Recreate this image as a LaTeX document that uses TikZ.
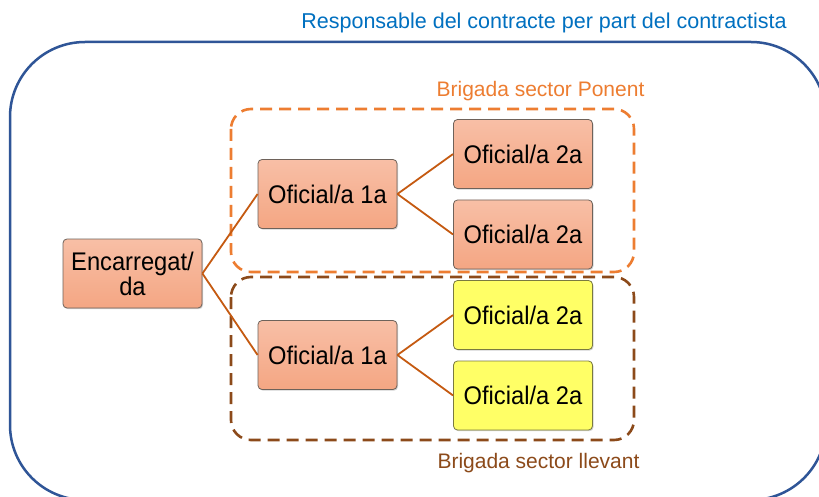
\documentclass[tikz,border=0pt]{standalone}
\usepackage{fontspec}
\setmainfont{Liberation Sans}
\newfontfamily\nodefont{Liberation Sans}[FakeStretch=0.93]
\usetikzlibrary{shadows}
\definecolor{titleblue}{HTML}{0070C0}
\definecolor{outerblue}{HTML}{2F5597}
\definecolor{ponentorange}{HTML}{ED7D31}
\definecolor{llevantbrown}{HTML}{8C4A1A}
\definecolor{linkcol}{HTML}{C55A11}
\definecolor{salmontop}{HTML}{F8BFA6}
\definecolor{salmonbot}{HTML}{F4A683}
\definecolor{yellowfill}{HTML}{FFFF66}
\definecolor{boxborder}{HTML}{6E625A}
\definecolor{yellowborder}{HTML}{7A7A40}
\tikzset{
  person/.style={rectangle, rounded corners=4pt, draw=boxborder, line width=0.8pt,
    minimum width=139pt, minimum height=69pt, inner sep=0pt,
    top color=salmontop, bottom color=salmonbot,
    drop shadow={shadow xshift=1pt, shadow yshift=-1.2pt, opacity=0.35},
    font=\nodefont\fontsize{25.5}{25}\selectfont, align=center},
  yperson/.style={person, top color=yellowfill, bottom color=yellowfill, draw=yellowborder},
  link/.style={draw=linkcol, line width=1.8pt},
  group/.style={rounded corners=20pt, line width=2.6pt, dash pattern=on 12pt off 7pt},
  grouplabel/.style={anchor=base, font=\fontsize{21}{24}\selectfont, inner sep=0pt}
}
\begin{document}
\begin{tikzpicture}[x=1pt, y=-1pt]
\useasboundingbox (0,0) rectangle (819,497);
\clip (0,0) rectangle (819,497);
\fill[white] (0,0) rectangle (819,497);
% outer frame
\draw[outerblue, line width=2.5pt, rounded corners=75pt] (10,42) rectangle (826,500);
\node[anchor=base, text=titleblue, font=\fontsize{21.5}{24}\selectfont, inner sep=0pt] (title) at (544,29) {Responsable del contracte per part del contractista};
% groups
\draw[group, ponentorange] (231,109) rectangle (634,272);
\draw[group, llevantbrown] (231,277) rectangle (634,440);
\node[grouplabel, text=ponentorange] (lponent) at (540.5,97) {Brigada sector Ponent};
\node[grouplabel, text=llevantbrown] (llevant) at (538.5,468) {Brigada sector llevant};
% people
\node[person] (enc) at (132.5,273.5) {Encarregat/\\da};
\node[person] (o1a) at (327.5,194) {Oficial/a 1a};
\node[person] (o2a) at (523,154) {Oficial/a 2a};
\node[person] (o2b) at (523,234.5) {Oficial/a 2a};
\node[person] (o1b) at (327.5,355) {Oficial/a 1a};
\node[yperson] (o2c) at (523,315) {Oficial/a 2a};
\node[yperson] (o2d) at (523,395.5) {Oficial/a 2a};
% links
\draw[link] (enc.east) -- (o1a.west);
\draw[link] (enc.east) -- (o1b.west);
\draw[link] (o1a.east) -- (o2a.west);
\draw[link] (o1a.east) -- (o2b.west);
\draw[link] (o1b.east) -- (o2c.west);
\draw[link] (o1b.east) -- (o2d.west);
\end{tikzpicture}
\end{document}
